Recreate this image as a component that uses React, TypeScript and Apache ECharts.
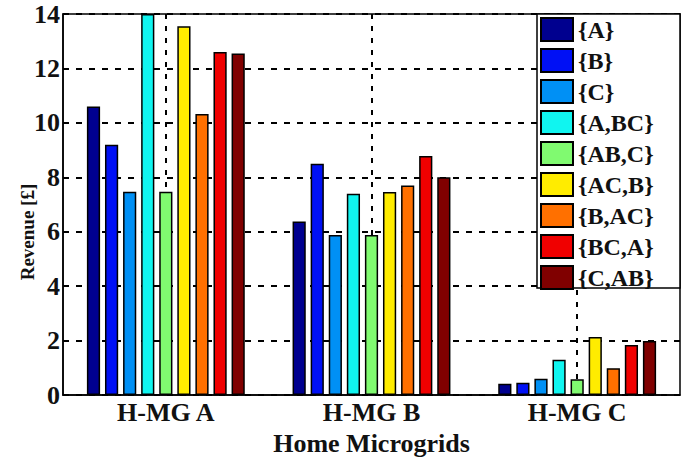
import React, { useEffect, useRef } from "react";
import * as echarts from "echarts";

const categories = ["H-MG A", "H-MG B", "H-MG C"];
const seriesNames = ["{A}", "{B}", "{C}", "{A,BC}", "{AB,C}", "{AC,B}", "{B,AC}", "{BC,A}", "{C,AB}"];
const seriesColors = ["#00008F", "#0010F5", "#0090F5", "#10F5F0", "#80FA70", "#FFEC00", "#FF7000", "#F00000", "#800000"];
const valuesA = [10.6, 9.2, 7.47, 14.0, 7.47, 13.55, 10.33, 12.6, 12.55];
const valuesB = [6.38, 8.5, 5.88, 7.4, 5.88, 7.46, 7.7, 8.78, 8.0];
const valuesC = [0.42, 0.45, 0.6, 1.3, 0.58, 2.13, 0.99, 1.84, 1.99];
const yTicks = [0, 2, 4, 6, 8, 10, 12, 14];

const FONT = "'Liberation Serif', 'Times New Roman', serif";

export default function App() {
  const ref = useRef<HTMLDivElement>(null);
  useEffect(() => {
    if (!ref.current) return;
    const chart = echarts.init(ref.current, undefined, { renderer: "svg" });
    const series = seriesNames.map((name, i) => ({
      name,
      type: "bar",
      data: [valuesA[i], valuesB[i], valuesC[i]],
      barWidth: 13.2,
      barGap: "37%",
      itemStyle: { color: seriesColors[i], borderColor: "#000", borderWidth: 1.5 },
    }));
    chart.setOption({
      animation: false,
      backgroundColor: "#fff",
      grid: {
        left: 63, top: 14, right: 11, bottom: 59,
        show: true, borderColor: "#000", borderWidth: 1.5, backgroundColor: "transparent",
      },
      legend: {
        orient: "vertical",
        left: 537,
        top: 14,
        itemWidth: 32,
        itemHeight: 23,
        itemGap: 6,
        padding: [3, 25, 3, 3],
        icon: "rect",
        data: seriesNames,
        textStyle: { fontFamily: FONT, fontSize: 24, fontWeight: "bold", color: "#111" },
      },
      xAxis: {
        type: "category",
        data: categories,
        name: "Home Microgrids",
        nameLocation: "middle",
        nameGap: 29,
        nameTextStyle: { fontFamily: FONT, fontSize: 26, fontWeight: "bold", color: "#111", verticalAlign: "top" },
        axisLine: { lineStyle: { color: "#000", width: 1.5 } },
        axisTick: { show: false },
        axisLabel: { fontFamily: FONT, fontSize: 26, fontWeight: "bold", color: "#111", margin: 4 },
        splitLine: {
          show: true,
          alignWithLabel: true,
          lineStyle: { color: "#000", type: [5, 7], width: 2 },
        },
      },
      yAxis: {
        type: "value",
        min: 0,
        max: 14,
        interval: 2,
        axisLine: { show: true, lineStyle: { color: "#000", width: 1.5 } },
        axisTick: { show: false },
        axisLabel: {
          fontFamily: FONT, fontSize: 26, fontWeight: "bold", color: "#111", margin: 3,
          formatter: (v: number) => (yTicks.includes(v) ? String(v) : ""),
        },
        splitLine: { show: true, lineStyle: { color: "#000", type: [6, 7], width: 2 } },
      },
      graphic: [
        {
          type: "rect",
          z: 3,
          shape: { x: 537, y: 14, width: 143, height: 274 },
          style: { fill: "#fff", stroke: "#000", lineWidth: 1.5 },
        },
        {
          type: "text",
          x: 27,
          y: 232,
          rotation: Math.PI / 2,
          style: {
            text: "Revenue [£]",
            fontFamily: FONT,
            fontSize: 19,
            fontWeight: "bold",
            fill: "#111",
            align: "center",
            verticalAlign: "middle",
          },
        },
      ],
      series,
    });
    return () => chart.dispose();
  }, []);
  return <div ref={ref} style={{ width: 691, height: 461, position: "absolute", left: 0, top: 0 }} />;
}
